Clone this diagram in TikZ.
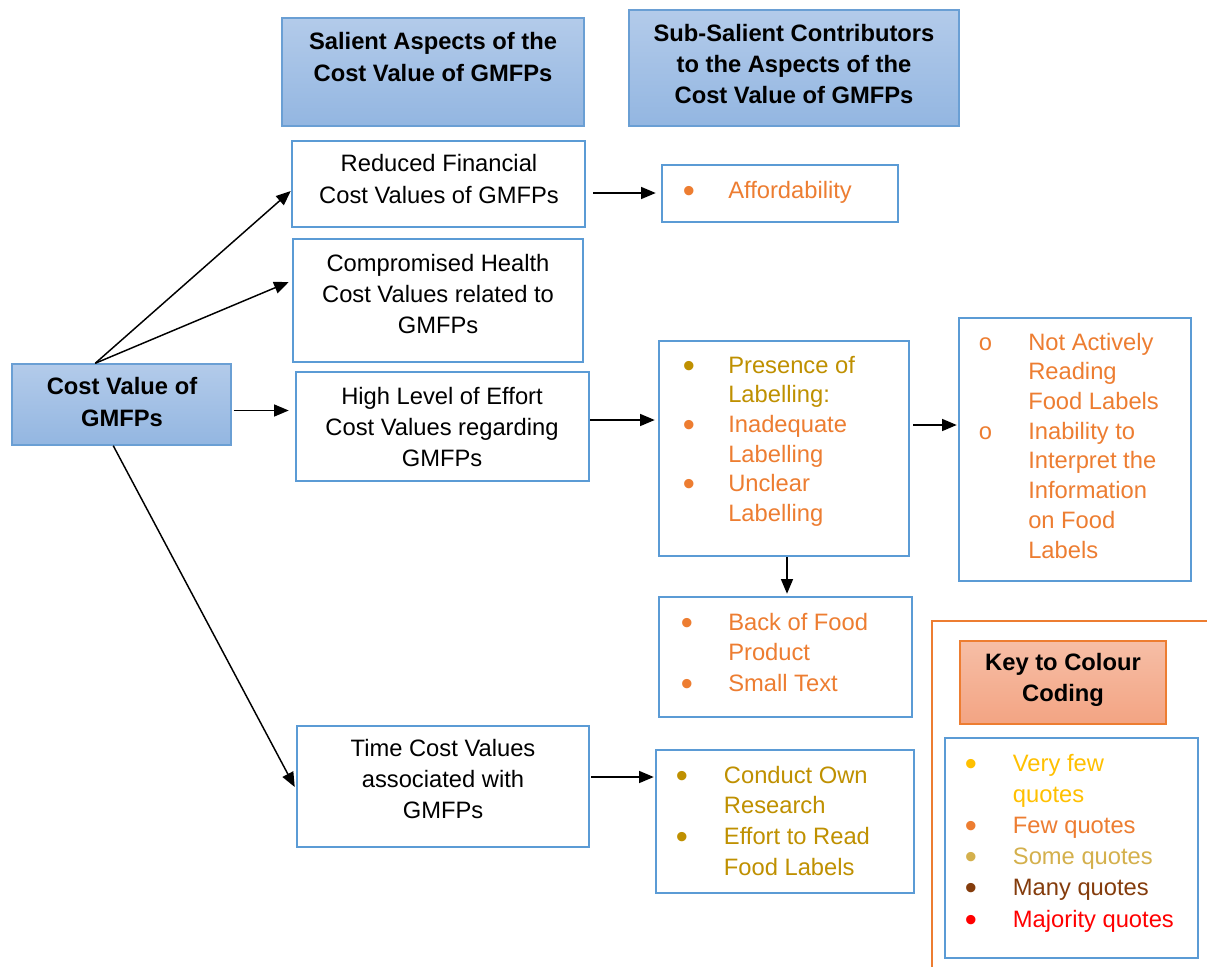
\documentclass[tikz,border=0pt]{standalone}
\usepackage{fontspec}
\setmainfont{Liberation Sans}
\newfontfamily\monofnt{Liberation Mono}
\usetikzlibrary{arrows.meta,fit,calc}

\definecolor{boxblue}{HTML}{5B9BD5}
\definecolor{hdrblue}{HTML}{6A9FD4}
\definecolor{hdrtop}{HTML}{B3CBEA}
\definecolor{hdrbot}{HTML}{93B6E1}
\definecolor{orng}{HTML}{ED7D31}
\definecolor{keytop}{HTML}{F6BEA6}
\definecolor{keybot}{HTML}{F3A483}
\definecolor{goldq}{HTML}{BF9000}
\definecolor{yellowq}{HTML}{FFC000}
\definecolor{someq}{HTML}{D4B04C}
\definecolor{manyq}{HTML}{843C0C}
\definecolor{majq}{HTML}{FF0000}

% enlarged list bullet, kept centred on the text line
\newcommand\bigdot{\raisebox{-0.17em}{\scalebox{1.45}{\textbullet}}}
% bullet row, continuation row, sub-level (open) bullet row
\newcommand\bitem[3][33pt]{\makebox[#1][l]{\hspace{-1pt}\textcolor{#2}{\bigdot}}&\textcolor{#2}{#3}\\}
\newcommand\citem[2]{&\textcolor{#1}{#2}\\}
\newcommand\oitem[3][37.5pt]{\makebox[#1][l]{\textcolor{#2}{\monofnt o}}&\textcolor{#2}{#3}\\}

\begin{document}
\begin{tikzpicture}[x=0.75pt,y=-0.75pt,
  box/.style={draw=boxblue, line width=1.9pt, fill=white, inner sep=0pt},
  hdr/.style={draw=hdrblue, line width=1.1pt, top color=hdrtop, bottom color=hdrbot, inner sep=0pt},
  keyhdr/.style={draw=orng, line width=1pt, top color=keytop, bottom color=keybot, inner sep=0pt},
  txt/.style={inner sep=0pt, align=center, font=\fontsize{17.8}{23.5}\selectfont},
  btxt/.style={inner sep=0pt, align=center, font=\fontsize{17.8}{23.5}\selectfont\bfseries},
  lst/.style={inner sep=0pt, anchor=base west, font=\fontsize{17.8}{#1}\selectfont},
  lst/.default=23pt,
  arr/.style={-{Triangle[length=11pt,width=9pt]}, line width=1.1pt, black},
]
\useasboundingbox (0,0) rectangle (1207,967);

% outer frame of the colour key
\draw[orng, line width=1.9pt] (932,975) -- (932,621) -- (1215,621);

% column headers
\node[hdr, fit={(282,18) (584,126)}] (h1) {};
\node[btxt] (h1t) at (433,57) {Salient Aspects of the\\Cost Value of GMFPs};
\node[hdr, fit={(629,10) (959,126)}] (h2) {};
\node[btxt] (h2t) at (794,64) {Sub-Salient Contributors\\to the Aspects of the\\Cost Value of GMFPs};

% root
\node[hdr, fit={(12,364) (231,445)}] (cost) {};
\node[btxt] (costt) at (122,402) {Cost Value of\\GMFPs};

% salient aspects
\node[box, fit={(292,141) (585,227)}] (red) {};
\node[txt] (redt) at (439,179) {Reduced Financial\\Cost Values of GMFPs};
\node[box, fit={(293,239) (583,362)}] (comp) {};
\node[txt] (compt) at (438,294) {Compromised Health\\Cost Values related to\\GMFPs};
\node[box, fit={(296,372) (589,481)}] (high) {};
\node[txt] (hight) at (442,427) {High Level of Effort\\Cost Values regarding\\GMFPs};
\node[box, fit={(297,726) (589,847)}] (time) {};
\node[txt] (timet) at (443,779) {Time Cost Values\\associated with\\GMFPs};

% sub-salient contributors
\node[box, fit={(662,165) (898,222)}] (aff) {};
\node[lst] (afft) at (684,198) {\begin{tabular}[t]{@{}l@{}l@{}}
  \bitem{orng}{Affordability}
\end{tabular}};

\node[box, fit={(659,341) (909,556)}] (pres) {};
\node[lst=22.3pt] (prest) at (684,373) {\begin{tabular}[t]{@{}l@{}l@{}}
  \bitem{goldq}{Presence of}
  \citem{goldq}{Labelling:}
  \bitem{orng}{Inadequate}
  \citem{orng}{Labelling}
  \bitem{orng}{Unclear}
  \citem{orng}{Labelling}
\end{tabular}};

\node[box, fit={(959,318) (1191,581)}] (notb) {};
\node[lst=22.3pt] (notbt) at (978,350) {\begin{tabular}[t]{@{}l@{}l@{}}
  \oitem{orng}{Not Actively}
  \citem{orng}{Reading}
  \citem{orng}{Food Labels}
  \oitem{orng}{Inability to}
  \citem{orng}{Interpret the}
  \citem{orng}{Information}
  \citem{orng}{on Food}
  \citem{orng}{Labels}
\end{tabular}};

\node[box, fit={(659,597) (912,717)}] (back) {};
\node[lst] (backt) at (682,630) {\begin{tabular}[t]{@{}l@{}l@{}}
  \bitem[34.5pt]{orng}{Back of Food}
  \citem{orng}{Product}
  \bitem[34.5pt]{orng}{Small Text}
\end{tabular}};

\node[box, fit={(656,750) (914,893)}] (cond) {};
\node[lst] (condt) at (677,783) {\begin{tabular}[t]{@{}l@{}l@{}}
  \bitem[35pt]{goldq}{Conduct Own}
  \citem{goldq}{Research}
  \bitem[35pt]{goldq}{Effort to Read}
  \citem{goldq}{Food Labels}
\end{tabular}};

% colour key
\node[keyhdr, fit={(960,641) (1166,724)}] (keyh) {};
\node[btxt] (keyht) at (1063,680) {Key to Colour\\Coding};
\node[box, fit={(945,738) (1198,958)}] (keyl) {};
\node[lst=23.4pt] (keylt) at (966,771) {\begin{tabular}[t]{@{}l@{}l@{}}
  \bitem[35pt]{yellowq}{Very few}
  \citem{yellowq}{quotes}
  \bitem[35pt]{orng}{Few quotes}
  \bitem[35pt]{someq}{Some quotes}
  \bitem[35pt]{manyq}{Many quotes}
  \bitem[35pt]{majq}{Majority quotes}
\end{tabular}};

% connectors
\coordinate (fan) at ($(cost.north west)+(84,0)$);
\draw[arr] (fan) -- ($(red.west)+(0,7)$);
\draw[arr] (fan) -- ($(comp.west)+(-3,-18.5)$);
\draw[arr] ($(cost.east)+(2,6)$) -- ($(high.west)+(-6,-16)$);
\draw[arr] ($(cost.south west)+(102,0)$) -- ($(time.west)+(-1,0.5)$);
\draw[arr] ($(red.east)+(7,9)$) -- ($(aff.west)+(-5,-0.5)$);
\draw[arr] ($(high.east)+(0,-6.5)$) -- ($(pres.west)+(-3,-28.5)$);
\draw[arr] ($(pres.east)+(3,-23.5)$) -- ($(notb.west)+(-1,-24.5)$);
\draw[arr] ($(pres.south)+(3,0)$) -- ($(back.north)+(1.5,-2)$);
\draw[arr] ($(time.east)+(1,-9.5)$) -- ($(cond.west)+(-1,-44.5)$);
\end{tikzpicture}
\end{document}
